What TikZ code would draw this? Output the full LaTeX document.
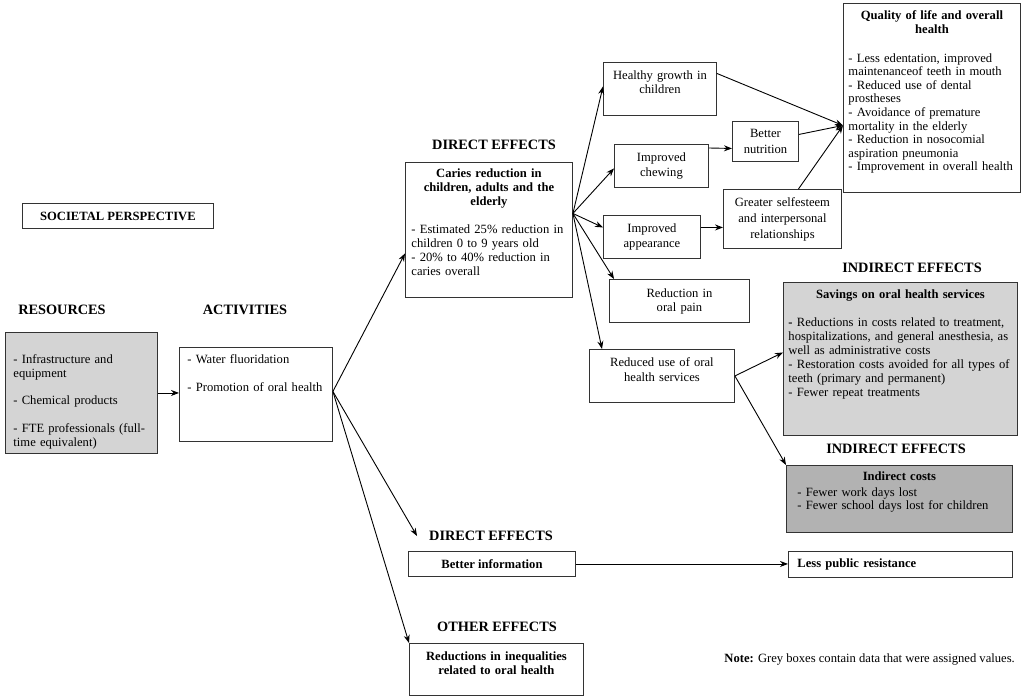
\documentclass[tikz,border=0pt]{standalone}
\usepackage{fontspec}
\setmainfont{Liberation Serif}
\usetikzlibrary{arrows.meta}

\begin{document}
\begin{tikzpicture}[x=1pt,y=-1pt,line cap=butt,line join=miter,>={Stealth[length=8pt,width=6pt]},font=\fontsize{12.6}{14}\selectfont]
	\tikzset{box/.style={draw=black!80,line width=.9pt,anchor=north west,inner ysep=0pt,align=left},
		cbox/.style={box,align=center},
		grey/.style={fill=black!17},
		dgrey/.style={fill=black!30},
		head/.style={font=\fontsize{14.3}{16}\selectfont\bfseries,inner sep=2pt},
		link/.style={->,line width=.9pt}
	}
	\useasboundingbox (0,0) rectangle (1024,699);
	% headings
	\node[head] (hres) at (62,310) {RESOURCES};
	\node[head] (hact) at (245,310) {ACTIVITIES};
	\node[head] (hde1) at (494,145) {DIRECT EFFECTS};
	\node[head] (hie1) at (912,268) {INDIRECT EFFECTS};
	\node[head] (hie2) at (896,449) {INDIRECT EFFECTS};
	\node[head] (hde2) at (491,536) {DIRECT EFFECTS};
	\node[head] (hoe) at (497,627) {OTHER EFFECTS};
	% boxes
	\node[cbox,minimum width=191pt,minimum height=25pt] (soc) at (22,203) {\textbf{SOCIETAL PERSPECTIVE}};
	\node[box,grey,inner xsep=8pt,text width=136pt,text height=31pt,text depth=90pt] (res) at (5,332)
	{- Infrastructure and\\ equipment\\[13pt] - Chemical products\\[14pt] - FTE professionals (full-\\ time equivalent)};
	\node[box,inner xsep=8pt,text width=137pt,text height=16pt,text depth=78pt] (act) at (179,347)
	{- Water fluoridation\\[14pt] - Promotion of oral health};
	\node[box,inner xsep=6pt,text width=155pt,text height=15pt,text depth=120pt] (car) at (405,162)
	{{\centering\bfseries Caries reduction in\\ children, adults and the\\ elderly\par}\vspace{14pt}
		- Estimated 25\% reduction in\\ children 0 to 9 years old\\ - 20\% to 40\% reduction in\\ caries overall};
	\node[box,inner xsep=5pt,text width=167pt,text height=16pt,text depth=173pt] (qol) at (843,3)
	{{\centering\bfseries Quality of life and overall\\ health\par}\vspace{15pt}
		{\fontsize{12.6}{13.6}\selectfont - Less edentation, improved\\ maintenanceof teeth in mouth\\ - Reduced use of dental\\ prostheses\\
			- Avoidance of premature\\ mortality in the elderly\\ - Reduction in nosocomial\\ aspiration pneumonia\\ - Improvement in overall health\par}};
	\node[cbox,inner xsep=4pt,text width=105pt,text height=17pt,text depth=36pt] (hg) at (603,62) {Healthy growth in\\ children};
	\node[cbox,inner xsep=4pt,text width=86pt,text height=17pt,text depth=26pt] (chew) at (614,144) {Improved\\[1pt] chewing};
	\node[cbox,inner xsep=3pt,text width=60pt,text height=16pt,text depth=24pt] (bn) at (732,121) {Better\\[2pt] nutrition};
	\node[cbox,inner xsep=4pt,text width=89pt,text height=17pt,text depth=26pt] (app) at (603,215) {Improved\\[1pt] appearance};
	\node[cbox,inner xsep=4pt,text width=110pt,text height=17pt,text depth=42pt] (gs) at (723,189)
	{Greater selfesteem\\[2pt] and interpersonal\\[2pt] relationships};
	\node[cbox,inner xsep=4pt,text width=132pt,text height=18pt,text depth=25pt] (pain) at (609,279) {Reduction in\\ oral pain};
	\node[cbox,inner xsep=4pt,text width=137pt,text height=17pt,text depth=36pt] (ru) at (589,349) {Reduced use of oral\\[1pt] health services};
	\node[box,grey,inner xsep=5pt,text width=224pt,text height=16pt,text depth=137pt] (sav) at (783,282)
	{{\centering\bfseries Savings on oral health services\par}\vspace{14pt}
		\textbf{-} Reductions in costs related to treatment,\\ hospitalizations, and general anesthesia, as\\ well as administrative costs\\
		- Restoration costs avoided for all types of\\ teeth (primary and permanent)\\ - Fewer repeat treatments};
	\node[box,dgrey,inner xsep=11pt,text width=204pt,text height=15pt,text depth=52pt] (ic) at (786,465)
	{{\centering\bfseries Indirect costs\par}\vspace{2pt}
		- Fewer work days lost\\[-1pt] - Fewer school days lost for children};
	\node[cbox,minimum width=167pt,minimum height=25pt] (bi) at (408,551) {\textbf{Better information}};
	\node[box,inner xsep=9pt,text width=206pt,minimum height=26pt] (lp) at (788,551) {\textbf{Less public resistance}};
	\node[cbox,inner xsep=4pt,text width=166pt,text height=17.5pt,text depth=34.5pt] (red) at (409,643)
	{\bfseries Reductions in inequalities\\ related to oral health};
	\node[anchor=base east,inner sep=0pt] (note) at (1015,662) {\textbf{Note:} Grey boxes contain data that were assigned values.};
	% arrows
	\draw[link] (res.east) -- (res.east -| act.west);
	\draw[link] ([yshift=3pt]act.east) -- ([yshift=-23.5pt]car.west);
	\draw[link] ([yshift=3pt]act.east) -- ([xshift=-10pt]hde2.west);
	\draw[link] ([yshift=3pt]act.east) -- (red.north west);
	\draw[link] ([yshift=16.5pt]car.east) -- ([yshift=2.5pt]hg.west);
	\draw[link] ([yshift=16.5pt]car.east) -- ([yshift=-2.5pt]chew.west);
	\draw[link] ([yshift=16.5pt]car.east) -- ([yshift=9.5pt]app.west);
	\draw[link] ([yshift=16.5pt]car.east) -- ([xshift=5pt]pain.north west);
	\draw[link] ([yshift=16.5pt]car.east) -- ([xshift=13pt]ru.north west);
	\draw[link] ([yshift=-4pt]chew.north east) -- ([yshift=-7pt]bn.west);
	\draw[link] ([yshift=9.5pt]app.east) -- ([yshift=-8.5pt]gs.west);
	\draw[link] ([yshift=15.5pt]hg.east) -- ([yshift=-27.5pt]qol.west);
	\draw[link] ([yshift=7pt]bn.east) -- ([yshift=-27.5pt]qol.west);
	\draw[link] ([xshift=16pt]gs.north) -- ([yshift=-27.5pt]qol.west);
	\draw[link] (ru.east) -- ([yshift=6.5pt]sav.west);
	\draw[link] (ru.east) -- (ic.north west);
	\draw[link] (bi.east) -- (bi.east -| lp.west);
\end{tikzpicture}
\end{document}
